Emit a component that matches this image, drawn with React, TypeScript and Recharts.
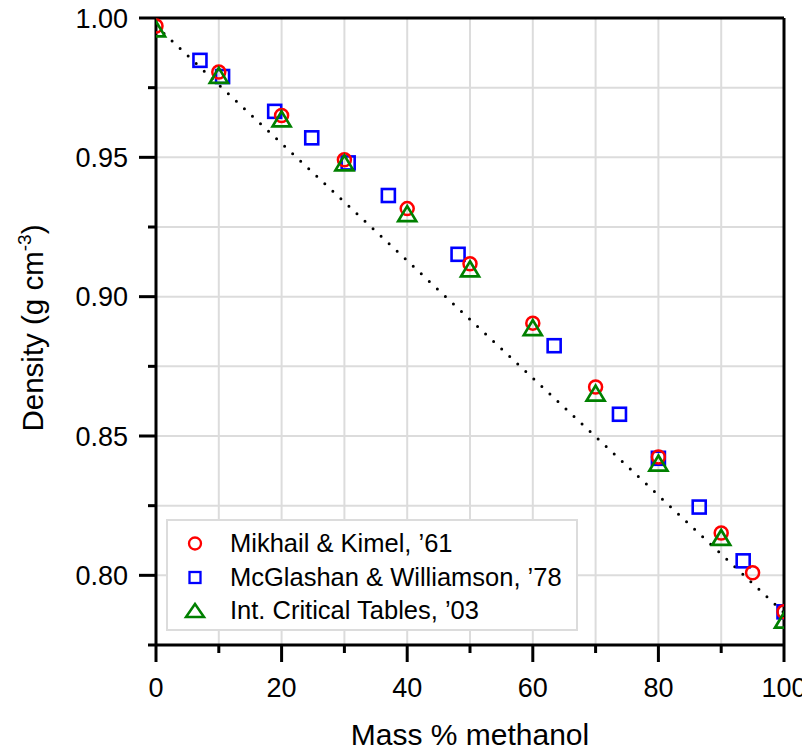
import React from 'react';
import { ScatterChart, Scatter, XAxis, YAxis, CartesianGrid, ReferenceLine } from 'recharts';

// Mikhail & Kimel, '61
const massMK = [0, 10, 20, 30, 40, 50, 60, 70, 80, 90, 95, 100];
const densMK = [0.9971, 0.9806, 0.965, 0.9491, 0.9316, 0.9118, 0.8905, 0.8676, 0.8425, 0.8152, 0.8009, 0.7869];

// McGlashan & Williamson, '78
const massMW = [7.0, 10.6, 18.9, 24.8, 30.6, 37.0, 48.1, 63.4, 73.8, 80.0, 86.5, 93.5, 100];
const densMW = [0.9848, 0.979, 0.9665, 0.957, 0.948, 0.9363, 0.9152, 0.8824, 0.8578, 0.842, 0.8245, 0.8052, 0.7869];

// Int. Critical Tables, '03
const massICT = [0, 10, 20, 30, 40, 50, 60, 70, 80, 90, 100];
const densICT = [0.9961, 0.9794, 0.9638, 0.948, 0.9298, 0.91, 0.8889, 0.8654, 0.8403, 0.8136, 0.7839];

// ideal (linear) mixing line
const massIdeal = [0, 100];
const densIdeal = [0.9971, 0.7866];

const xTicks = [0, 10, 20, 30, 40, 50, 60, 70, 80, 90, 100];
const yTicks = [0.775, 0.8, 0.825, 0.85, 0.875, 0.9, 0.925, 0.95, 0.975, 1.0];

const seriesNames = ["Mikhail & Kimel, \u201961", "McGlashan & Williamson, \u201978", "Int. Critical Tables, \u201903"];

const zip = (xs: number[], ys: number[]) => xs.map((x, i) => ({ x, y: ys[i] }));
const dataMK = zip(massMK, densMK);
const dataMW = zip(massMW, densMW);
const dataICT = zip(massICT, densICT);
const dataIdeal = zip(massIdeal, densIdeal);

const FONT = '"Liberation Sans", Arial, sans-serif';
const RED = '#ff0000';
const BLUE = '#0000ff';
const GREEN = '#008000';

const CircleMark = (p: any) => {
  if (p.cx == null || p.cy == null) return <g />;
  return <circle cx={p.cx} cy={p.cy} r={6.5} fill="none" stroke={RED} strokeWidth={2.5} />;
};
const SquareMark = (p: any) => {
  if (p.cx == null || p.cy == null) return <g />;
  return <rect x={p.cx - 6.5} y={p.cy - 6.5} width={13} height={13} fill="none" stroke={BLUE} strokeWidth={2.6} />;
};
const TriMark = (p: any) => {
  if (p.cx == null || p.cy == null) return <g />;
  const w = 9, h = 7.5;
  return (
    <polygon
      points={`${p.cx},${p.cy - h} ${p.cx + w},${p.cy + h} ${p.cx - w},${p.cy + h}`}
      fill="none"
      stroke={GREEN}
      strokeWidth={2.7}
      strokeLinejoin="miter"
    />
  );
};

const XTick = (p: any) => {
  const v = p.payload.value;
  const major = Math.round(v) % 20 === 0;
  return (
    <g>
      <line x1={p.x} x2={p.x} y1={p.y} y2={p.y + (major ? 17 : 8)} stroke="#000" strokeWidth={3} />
      {major && (
        <text x={p.x} y={p.y + 52} textAnchor="middle" fontSize={27} fontFamily={FONT} fill="#000">
          {String(v)}
        </text>
      )}
    </g>
  );
};

const YTick = (p: any) => {
  const v = p.payload.value;
  const major = Math.round(v * 1000) % 50 === 0;
  return (
    <g>
      <line x1={p.x - (major ? 17 : 8)} x2={p.x} y1={p.y} y2={p.y} stroke="#000" strokeWidth={3} />
      {major && (
        <text x={p.x - 28} y={p.y + 9.5} textAnchor="end" fontSize={27} fontFamily={FONT} fill="#000">
          {v.toFixed(2)}
        </text>
      )}
    </g>
  );
};

const LegendBox = () => {
  const rows = [
    { name: seriesNames[0], kind: 'c' },
    { name: seriesNames[1], kind: 's' },
    { name: seriesNames[2], kind: 't' },
  ];
  return (
    <div
      style={{
        position: 'absolute',
        left: 166,
        top: 519,
        width: 408,
        height: 108,
        border: '2px solid #dcdcdc',
        background: '#fff',
        fontFamily: FONT,
      }}
    >
      {rows.map((r, i) => (
        <div key={i} style={{ position: 'absolute', left: 0, top: 6 + i * 33.5, height: 33, width: '100%' }}>
          <svg width={40} height={33} style={{ position: 'absolute', left: 8, top: 0 }}>
            {r.kind === 'c' && <circle cx={19} cy={16.5} r={6} fill="none" stroke={RED} strokeWidth={2.3} />}
            {r.kind === 's' && <rect x={13.5} y={11} width={11} height={11} fill="none" stroke={BLUE} strokeWidth={2.3} />}
            {r.kind === 't' && (
              <polygon points="19,10 28,23 10,23" fill="none" stroke={GREEN} strokeWidth={2.5} />
            )}
          </svg>
          <span style={{ position: 'absolute', left: 62, top: 1, fontSize: 25.5, lineHeight: '30px', color: '#000', whiteSpace: 'nowrap' }}>
            {r.name}
          </span>
        </div>
      ))}
    </div>
  );
};

export default function App() {
  return (
    <div style={{ position: 'relative', width: 810, height: 751, margin: '-8px 0 0 -8px' }}>
      <ScatterChart width={810} height={751} margin={{ top: 18, right: 26, left: 8, bottom: 0 }}>
        <CartesianGrid stroke="#dcdcdc" strokeWidth={2} />
        <XAxis
          type="number"
          dataKey="x"
          domain={[0, 100]}
          ticks={xTicks}
          interval={0}
          height={106}
          tickSize={0}
          tickMargin={0}
          tickLine={false}
          tick={<XTick />}
          axisLine={{ stroke: '#000', strokeWidth: 3 }}
          allowDataOverflow
          label={{
            content: () => (
              <text x={470} y={745} textAnchor="middle" fontSize={30} fontFamily={FONT} fill="#000">
                Mass % methanol
              </text>
            ),
          }}
        />
        <YAxis
          type="number"
          dataKey="y"
          domain={[0.775, 1.0]}
          ticks={yTicks}
          interval={0}
          width={148}
          tickSize={0}
          tickMargin={0}
          tickLine={false}
          tick={<YTick />}
          axisLine={{ stroke: '#000', strokeWidth: 3 }}
          allowDataOverflow
          label={{
            content: () => (
              <text
                x={43}
                y={328}
                transform="rotate(-90, 43, 328)"
                textAnchor="middle"
                fontSize={29.5}
                fontFamily={FONT}
                fill="#000"
              >
                Density (g cm
                <tspan dy={-12} fontSize={19}>-3</tspan>
                <tspan dy={12}>)</tspan>
              </text>
            ),
          }}
        />
        <ReferenceLine y={1.0} stroke="#000" strokeWidth={3} />
        <ReferenceLine x={100} stroke="#000" strokeWidth={3} />
        <Scatter
          data={dataIdeal}
          isAnimationActive={false}
          line={{ stroke: '#000', strokeWidth: 3, strokeDasharray: '0 11', strokeLinecap: 'round' }}
          shape={() => <g />}
          legendType="none"
        />
        <Scatter data={dataMW} isAnimationActive={false} shape={<SquareMark />} name={seriesNames[1]} />
        <Scatter data={dataMK} isAnimationActive={false} shape={<CircleMark />} name={seriesNames[0]} />
        <Scatter data={dataICT} isAnimationActive={false} shape={<TriMark />} name={seriesNames[2]} />
      </ScatterChart>
      <LegendBox />
    </div>
  );
}
